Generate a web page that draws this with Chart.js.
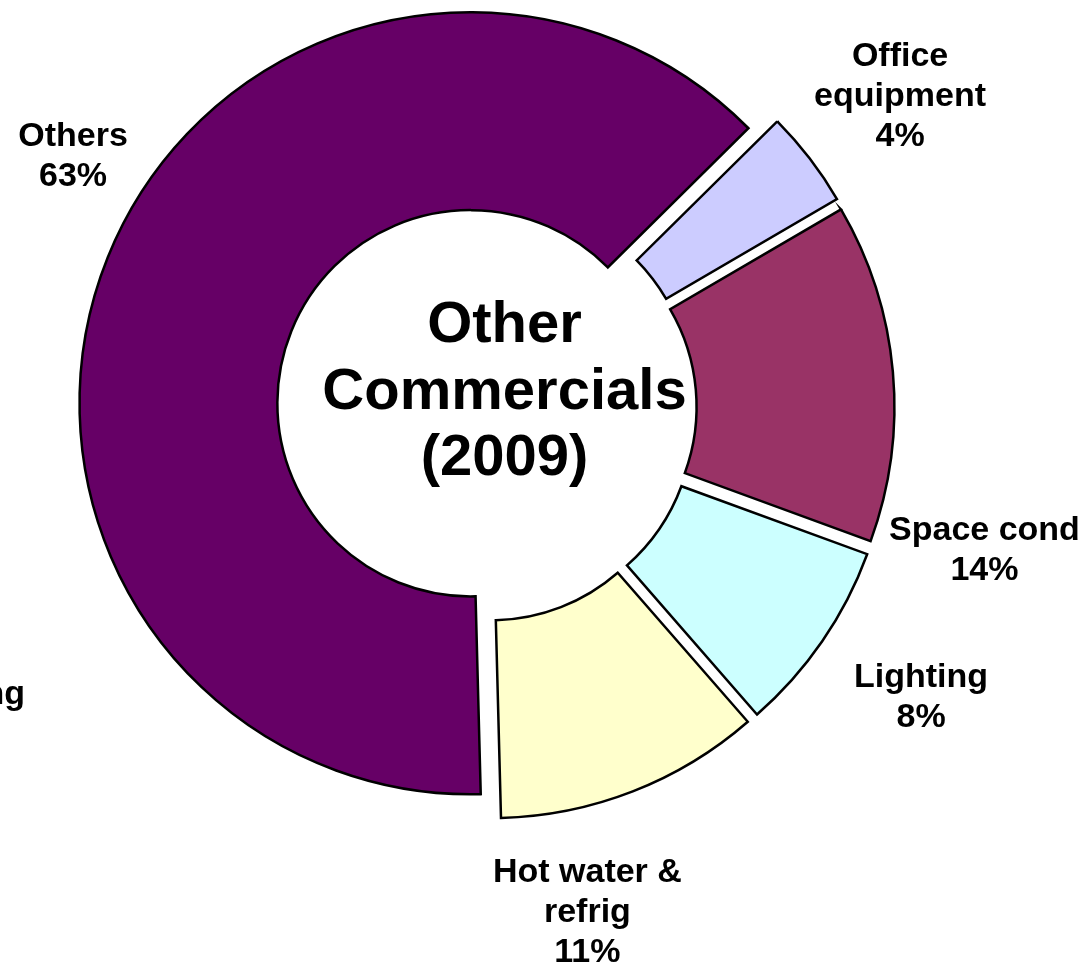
<!DOCTYPE html>
<html lang="en">
<head>
  <meta charset="UTF-8">
  <title>Other Commercials (2009)</title>
  <script src="https://cdn.jsdelivr.net/npm/chart.js@4.4.0/dist/chart.umd.min.js"></script>
  <style>
    html, body { margin: 0; padding: 0; background: #fff; }
    #wrap { position: relative; width: 1086px; height: 965px; }
  </style>
</head>
<body>
  <div id="wrap"><canvas id="myChart"></canvas></div>

  <script>
  // energy use by end use, other commercial buildings, 2009 (%)
  var categories = [['Office', 'equipment'], ['Space cond'], ['Lighting'], ['Hot water &', 'refrig'], ['Cooking'], ['Others']];
  var shares = [4, 14, 8, 11, 0, 63];
  var colours = ['#CCCCFF', '#993366', '#CCFFFF', '#FFFFCC', '#FF8080', '#660066'];
  var title = ['Other', 'Commercials', '(2009)'];

  // how far each slice is pulled out, and hand placed label shifts
  var explode = [20, 20, 20, 20, 0, 14];
  var labelNudge = [[4, 2], [-17, 186], [9, -8], [-85, 17], [-540, -216], [72, -61]];

  var FONT = '"Liberation Sans", Arial, Helvetica, sans-serif';

  function centreOf(chart) {
    var a = chart.chartArea;
    return { x: (a.left + a.right) / 2, y: (a.top + a.bottom) / 2 };
  }

  // pull slices away from the centre along their mid angle
  var explodePlugin = {
    id: 'explode',
    beforeDatasetsDraw: function(chart) {
      var c = centreOf(chart);
      chart.getDatasetMeta(0).data.forEach(function(arc, i) {
        var mid = (arc.startAngle + arc.endAngle) / 2;
        arc.x = c.x + Math.cos(mid) * explode[i];
        arc.y = c.y + Math.sin(mid) * explode[i];
      });
    }
  };

  // category + percent labels round the ring, and the title in the hole
  var labelPlugin = {
    id: 'sliceLabels',
    afterDatasetsDraw: function(chart) {
      var ctx = chart.ctx;
      var c = centreOf(chart);
      var total = shares.reduce(function(a, b) { return a + b; }, 0);
      ctx.save();
      ctx.fillStyle = '#000';
      ctx.textAlign = 'center';
      ctx.textBaseline = 'alphabetic';

      ctx.font = 'bold 34px ' + FONT;
      chart.getDatasetMeta(0).data.forEach(function(arc, i) {
        var mid = (arc.startAngle + arc.endAngle) / 2;
        var r = arc.outerRadius * 1.33;
        var x = c.x + Math.cos(mid) * r + labelNudge[i][0];
        var y = c.y + Math.sin(mid) * r + labelNudge[i][1];
        var lines = categories[i].concat([Math.round(shares[i] / total * 100) + '%']);
        var first = y + 12 - (lines.length - 1) * 20;
        lines.forEach(function(t, k) {
          ctx.fillText(t, x, first + k * 40);
        });
      });

      ctx.font = 'bold 58px ' + FONT;
      title.forEach(function(t, k) {
        ctx.fillText(t, c.x + 21, c.y + (k - 1) * 66.7);
      });
      ctx.restore();
    }
  };

  var ctx = document.getElementById('myChart');
  var myChart = new Chart(ctx, {
    type: 'doughnut',
    data: {
      labels: categories,
      datasets: [{
        data: shares,
        backgroundColor: colours,
        borderColor: '#000',
        borderWidth: 2.5,
        borderJoinStyle: 'miter',
        clip: false
      }]
    },
    options: {
      responsive: true,
      maintainAspectRatio: false,
      animation: false,
      events: [],
      rotation: 45.3,
      radius: 391,
      cutout: '49.4%',
      layout: { padding: { left: 0, right: 119, top: 0, bottom: 148 } },
      plugins: {
        legend: { display: false },
        tooltip: { enabled: false }
      }
    },
    plugins: [explodePlugin, labelPlugin]
  });
  </script>
</body>
</html>
